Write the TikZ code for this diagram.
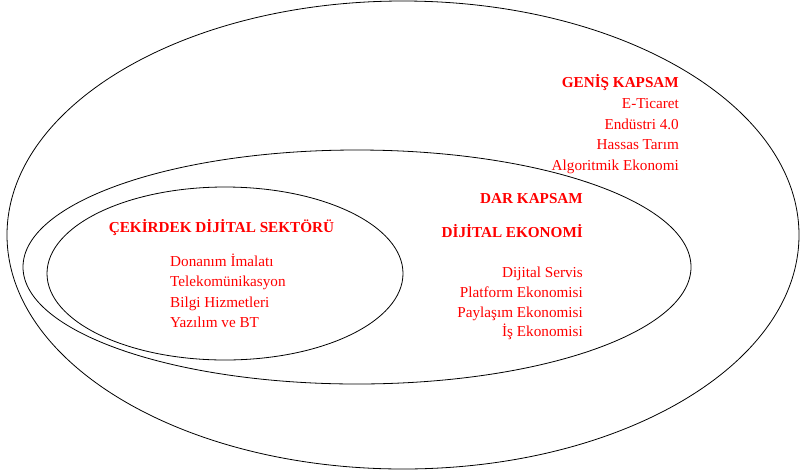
\documentclass[tikz,border=0pt]{standalone}
\usepackage{fontspec}
\setmainfont{Liberation Serif}
\usepackage{tikz}

\begin{document}
\begin{tikzpicture}[x=1pt,y=-1pt,
    scope line/.style={black, line width=0.8pt},
    red text/.style={text=red, inner sep=0pt, font=\fontsize{15.2}{20.6}\selectfont},
    red head/.style={red text, font=\fontsize{15.2}{20.6}\selectfont\bfseries}]
    \useasboundingbox (0,0) rectangle (800,472);
    % three nested scopes
    \draw[scope line] (403,235) ellipse (396pt and 234pt);
    \draw[scope line] (357,267) ellipse (334pt and 117pt);
    \draw[scope line] (225,273.5) ellipse (178pt and 86.5pt);
    % wide scope
    \node[red head, anchor=base east] (genis) at (679,87.5) {GENİŞ KAPSAM};
    \node[red text, anchor=base east] (eticaret) at (679,108.5) {E-Ticaret};
    \node[red text, anchor=base east] (endustri) at (679,129) {Endüstri 4.0};
    \node[red text, anchor=base east] (tarim) at (679,149.5) {Hassas Tarım};
    \node[red text, anchor=base east] (algo) at (679,170) {Algoritmik Ekonomi};
    % narrow scope
    \node[red head, anchor=base east] (dar) at (583,203) {DAR KAPSAM};
    \node[red head, anchor=base east] (dijeko) at (583,237) {DİJİTAL EKONOMİ};
    \node[red text, anchor=base east] (servis) at (583,277) {Dijital Servis};
    \node[red text, anchor=base east] (platform) at (583,297) {Platform Ekonomisi};
    \node[red text, anchor=base east] (paylasim) at (583,317) {Paylaşım Ekonomisi};
    \node[red text, anchor=base east] (is) at (583,336.5) {İş Ekonomisi};
    % core sector
    \node[red head, anchor=base] (cekirdek) at (221.5,232) {ÇEKİRDEK DİJİTAL SEKTÖRÜ};
    \node[red text, anchor=base west] (donanim) at (170,266) {Donanım İmalatı};
    \node[red text, anchor=base west] (telekom) at (170,286.5) {Telekomünikasyon};
    \node[red text, anchor=base west] (bilgi) at (170,307) {Bilgi Hizmetleri};
    \node[red text, anchor=base west] (yazilim) at (170,327) {Yazılım ve BT};
\end{tikzpicture}
\end{document}
